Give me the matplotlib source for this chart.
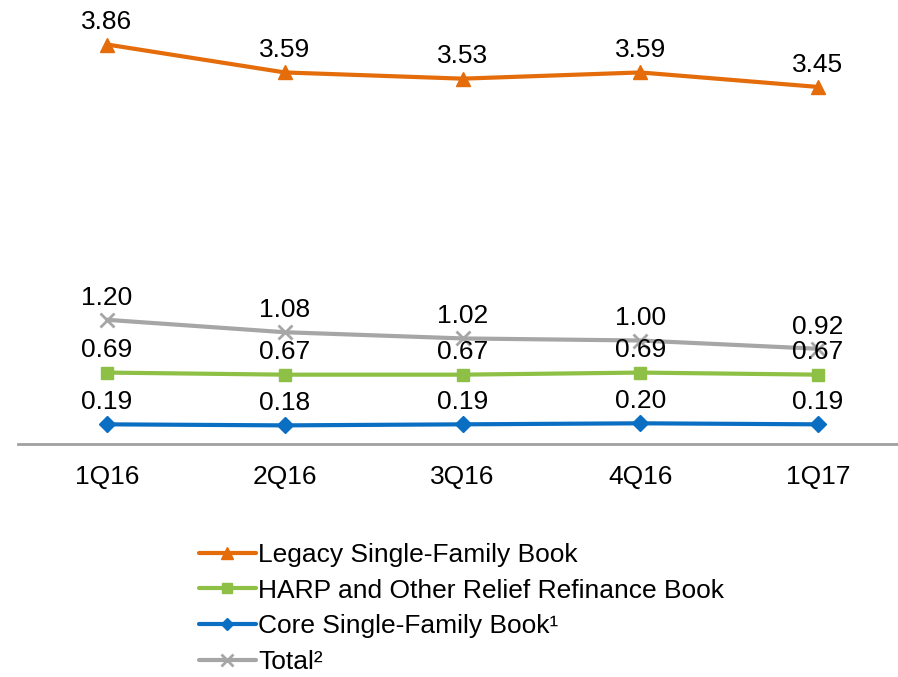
import matplotlib
matplotlib.use("Agg")
import matplotlib.pyplot as plt

plt.rcParams['font.family'] = ['Liberation Sans', 'DejaVu Sans']

categories = ["1Q16", "2Q16", "3Q16", "4Q16", "1Q17"]
legacy = [3.86, 3.59, 3.53, 3.59, 3.45]
harp = [0.69, 0.67, 0.67, 0.69, 0.67]
core = [0.19, 0.18, 0.19, 0.20, 0.19]
total = [1.20, 1.08, 1.02, 1.00, 0.92]

labels = ["Legacy Single-Family Book", "HARP and Other Relief Refinance Book",
          "Core Single-Family Book\u00b9", "Total\u00b2"]
colors = ["#E46C0A", "#8DC044", "#0A6FC2", "#A6A6A6"]
markers = ["^", "s", "D", "x"]
msizes = [10, 9, 8, 10]

FS = 19

fig = plt.figure(figsize=(8.98, 6.77), dpi=100)
ax = fig.add_axes([18/898, 1 - 444/677, 880/898, 444/677])

x = list(range(len(categories)))
series = [legacy, harp, core, total]
for vals, lab, c, m, ms in zip(series, labels, colors, markers, msizes):
    ax.plot(x, vals, color=c, lw=3, marker=m, markersize=ms, label=lab,
            markeredgewidth=2 if m == "x" else 1, markeredgecolor=c, solid_capstyle='round')
    for xi, v in zip(x, vals):
        ax.annotate(f"{v:.2f}", (xi, v), xytext=(0, 16), textcoords="offset points",
                    ha="center", va="center", fontsize=FS, color="#000000")

ax.set_xlim(-0.5007, 4.45)
ax.set_ylim(0, 4.29)
ax.set_xticks(x)
ax.set_xticklabels(categories, fontsize=FS)
ax.tick_params(axis='x', length=0, pad=15)
ax.set_yticks([])
for s in ["top", "right", "left"]:
    ax.spines[s].set_visible(False)
ax.spines["bottom"].set_color("#A0A0A0")
ax.spines["bottom"].set_linewidth(2)
ax.patch.set_alpha(0)

handles, labs = ax.get_legend_handles_labels()
fig.legend(handles, labs, loc="upper left", bbox_to_anchor=(199/898, 1 - 543/677),
           frameon=False, fontsize=FS, handlelength=2.15, handletextpad=0.1,
           labelspacing=0.44, borderpad=0, borderaxespad=0, markerscale=0.8)

fig.savefig("out.png", dpi=100)
